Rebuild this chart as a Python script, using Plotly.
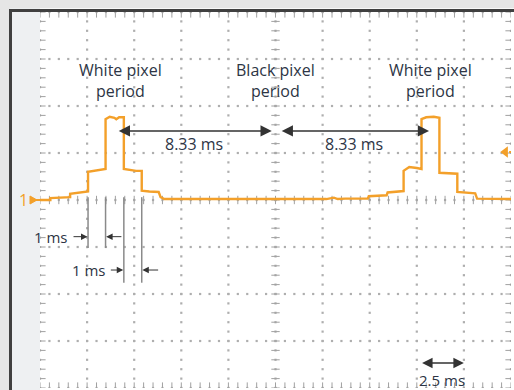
import plotly.graph_objects as go

# ---------------- data ----------------
# oscilloscope trace, channel 1 (time in ms, amplitude in divisions)
time_ms = [0.00, 0.55, 0.55, 1.20, 1.60, 1.60, 2.00, 2.30, 2.55, 2.55, 2.90, 3.20, 3.48,
           3.48, 3.70, 3.95, 4.05, 4.20, 4.45, 4.45, 4.80, 5.10, 5.40, 5.40, 5.80, 6.30,
           6.40, 6.60, 9.00, 12.00, 15.20, 15.60, 15.80, 16.20, 17.40, 17.45, 18.00,
           18.40, 18.45, 18.90, 19.30, 19.30, 19.60, 20.00, 20.25, 20.25, 20.50, 20.90,
           21.20, 21.20, 21.70, 22.15, 22.15, 22.70, 23.10, 23.20, 25.00]
ch1_div = [0.00, 0.00, 0.04, 0.05, 0.06, 0.13, 0.15, 0.17, 0.18, 0.60, 0.62, 0.64, 0.66,
           1.72, 1.77, 1.75, 1.72, 1.76, 1.76, 0.66, 0.64, 0.62, 0.62, 0.20, 0.18, 0.17,
           0.06, 0.02, 0.02, 0.02, 0.02, 0.05, 0.02, 0.03, 0.03, 0.08, 0.09,
           0.10, 0.16, 0.18, 0.19, 0.62, 0.70, 0.68, 0.66, 1.72, 1.76, 1.77,
           1.75, 0.58, 0.57, 0.56, 0.17, 0.16, 0.14, 0.03, 0.02]

period_labels = ["White pixel<br>period", "Black pixel<br>period", "White pixel<br>period"]
period_x = [4.25, 12.5, 20.75]
period_ms = ["8.33 ms", "8.33 ms"]
period_arrows = [(4.1, 12.3), (12.75, 20.65)]
edge_ms = [2.55, 3.48, 4.45, 5.40]          # dimension lines at step edges
step_label = "1 ms"
scale_label = "2.5 ms"
trigger_level = 1.02
channel_label = "1"

# ---------------- style ----------------
ORANGE = "#F3A02A"
TEXT = "#2d3545"
GRID = "#aeaeae"
FONT = "Open Sans"
X_DIV = 2.5
Y_DIV = 1.0
PW = 471.0   # plot width in px (for paper-relative placements)
PH = 376.0

fig = go.Figure()

# grid dots
gx, gy = [], []
for i in range(11):
    for j in range(41):
        gx.append(i * X_DIV); gy.append(-4 + j * 0.2)
for j in range(9):
    for i in range(51):
        gx.append(i * 0.5); gy.append(-4 + j * Y_DIV)
fig.add_trace(go.Scatter(x=gx, y=gy, mode="markers", hoverinfo="skip",
                         marker=dict(symbol="square", size=2.2, color=GRID)))

# centre axis ticks
fig.add_trace(go.Scatter(x=[12.5] * 41, y=[-4 + j * 0.2 for j in range(41)], mode="markers",
                         hoverinfo="skip",
                         marker=dict(symbol="line-ew", size=6, line=dict(width=1, color="#a0a0a0"))))
fig.add_trace(go.Scatter(x=[i * 0.5 for i in range(51)], y=[0] * 51, mode="markers",
                         hoverinfo="skip",
                         marker=dict(symbol="line-ns", size=6, line=dict(width=1, color="#a0a0a0"))))
# edge ticks
fig.add_trace(go.Scatter(x=[0] * 41 + [25] * 41, y=[-4 + j * 0.2 for j in range(41)] * 2,
                         mode="markers", hoverinfo="skip",
                         marker=dict(symbol="line-ew", size=8, line=dict(width=1, color="#a0a0a0"))))
fig.add_trace(go.Scatter(x=[i * 0.5 for i in range(51)] * 2, y=[4] * 51 + [-4] * 51,
                         mode="markers", hoverinfo="skip",
                         marker=dict(symbol="line-ns", size=8, line=dict(width=1, color="#a0a0a0"))))

# the trace
fig.add_trace(go.Scatter(x=time_ms, y=ch1_div, mode="lines",
                         line=dict(color=ORANGE, width=2.4), hoverinfo="skip"))

# trigger marker (right)
fig.add_trace(go.Scatter(x=[24.9, 25.2], y=[trigger_level] * 2, mode="lines",
                         line=dict(color=ORANGE, width=2), cliponaxis=False, hoverinfo="skip"))
fig.add_trace(go.Scatter(x=[24.7], y=[trigger_level], mode="markers", cliponaxis=False,
                         marker=dict(symbol="triangle-left", size=10, color=ORANGE),
                         hoverinfo="skip"))

ann = []
for lbl, px in zip(period_labels, period_x):
    ann.append(dict(x=px, y=2.55, text=lbl, showarrow=False,
                    font=dict(family=FONT, size=16, color=TEXT)))
for (a, b), lbl in zip(period_arrows, period_ms):
    ann.append(dict(x=b, y=1.47, ax=a, ay=1.47, xref="x", yref="y", axref="x", ayref="y",
                    text="", showarrow=True, arrowhead=2, startarrowhead=2,
                    arrowside="end+start", arrowsize=1.5, arrowwidth=1.5,
                    arrowcolor="#333333", standoff=0, startstandoff=0))
    ann.append(dict(x=(a + b) / 2 - 0.05, y=1.2, text=lbl, showarrow=False,
                    font=dict(family=FONT, size=16, color=TEXT)))

# 1 ms dimension arrows
def small_arrow(head, tail, y):
    return dict(x=head, y=y, ax=tail, ay=y, xref="x", yref="y", axref="x", ayref="y",
                text="", showarrow=True, arrowhead=2, arrowsize=1.3, arrowwidth=1,
                arrowcolor="#333333", standoff=0)

row1, row2 = -0.78, -1.49
ann += [small_arrow(edge_ms[0] - 0.03, 1.70, row1), small_arrow(edge_ms[1] + 0.03, 4.40, row1),
        small_arrow(edge_ms[2] - 0.03, 3.68, row2), small_arrow(edge_ms[3] + 0.03, 6.35, row2)]
ann.append(dict(x=1.60, y=row1, text=step_label, showarrow=False, xanchor="right",
                font=dict(family=FONT, size=15, color=TEXT)))
ann.append(dict(x=3.60, y=row2, text=step_label, showarrow=False, xanchor="right",
                font=dict(family=FONT, size=15, color=TEXT)))

# 2.5 ms scale
ann.append(dict(x=22.5, y=-3.47, ax=20.2, ay=-3.47, xref="x", yref="y", axref="x", ayref="y",
                text="", showarrow=True, arrowhead=2, startarrowhead=2, arrowside="end+start",
                arrowsize=1.4, arrowwidth=1.5, arrowcolor="#333333", standoff=0, startstandoff=0))
ann.append(dict(x=21.35, y=-3.82, text=scale_label, showarrow=False,
                font=dict(family=FONT, size=15, color=TEXT)))

# channel marker "1"
ann.append(dict(x=-17 / PW, y=0.5, xref="paper", yref="paper", text=channel_label,
                showarrow=False, xanchor="center", yanchor="middle",
                font=dict(family=FONT, size=16, color=ORANGE)))

shapes = []
# panel backgrounds
shapes.append(dict(type="rect", xref="paper", yref="paper", x0=-30 / PW, x1=0, y0=-0.01,
                   y1=1.01, fillcolor="#eef0f2", line=dict(width=0), layer="below"))
shapes.append(dict(type="rect", xref="paper", yref="paper", x0=0, x1=1.01, y0=-0.01,
                   y1=1.01, fillcolor="#ffffff", line=dict(width=0), layer="below"))
# dark frame
shapes.append(dict(type="line", xref="paper", yref="paper", x0=-29.5 / PW, x1=-29.5 / PW,
                   y0=-0.01, y1=1.004, line=dict(color="#404040", width=3)))
shapes.append(dict(type="line", xref="paper", yref="paper", x0=-31 / PW, x1=1.01,
                   y0=1.004, y1=1.004, line=dict(color="#404040", width=3)))
# dimension lines
for k, e in enumerate(edge_ms):
    shapes.append(dict(type="line", xref="x", yref="y", x0=e, x1=e, y0=0.06,
                       y1=(-1.02 if k < 2 else -1.76), line=dict(color="#8a8a8a", width=1.5)))
# channel marker arrow + stub
shapes.append(dict(type="line", xref="paper", yref="paper", x0=-10 / PW, x1=0,
                   y0=0.5, y1=0.5, line=dict(color=ORANGE, width=2)))
shapes.append(dict(type="path", xref="paper", yref="paper",
                   path=f"M {-10/PW},{0.5 + 4/PH} L {-3/PW},0.5 L {-10/PW},{0.5 - 4/PH} Z",
                   fillcolor=ORANGE, line=dict(color=ORANGE, width=1)))

fig.update_layout(
    width=514, height=390,
    margin=dict(l=40, r=3, t=12, b=2),
    paper_bgcolor="#e6e6e6", plot_bgcolor="#ffffff",
    showlegend=False,
    xaxis=dict(range=[0, 25], showgrid=False, zeroline=False, showticklabels=False,
               ticks="", fixedrange=True),
    yaxis=dict(range=[-4, 4], showgrid=False, zeroline=False, showticklabels=False,
               ticks="", fixedrange=True),
    annotations=ann, shapes=shapes,
)

fig.write_html("out.html", config={"displayModeBar": False},
               post_script="document.body.style.margin='0';")
